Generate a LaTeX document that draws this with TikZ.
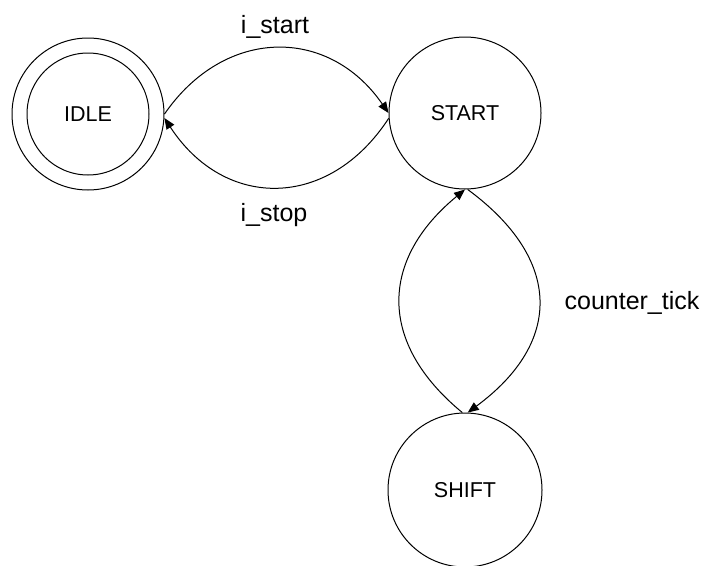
\documentclass[tikz,border=0pt]{standalone}
\usepackage{fontspec}
\setmainfont{Liberation Sans}
\usetikzlibrary{arrows.meta}
\begin{document}
\begin{tikzpicture}[x=1pt,y=-1pt,
  statenode/.style={circle,draw,line width=1pt,inner sep=0pt,font=\fontsize{21.5}{25}\selectfont},
  lbl/.style={anchor=base,font=\fontsize{25}{30}\selectfont},
  edge/.style={line width=1pt,-{Triangle[length=11pt,width=9pt]}}]
\useasboundingbox (0,0) rectangle (706,565);
\node[statenode,minimum size=152pt] (idle) at (88,114) {};
\node[statenode,minimum size=122pt] (idlein) at (88,114) {IDLE};
\node[statenode,minimum size=152pt] (start) at (465,113) {START};
\node[statenode,minimum size=154pt] (shift) at (465,490) {SHIFT};
\draw[edge] (idle.0) .. controls +(60,-87) and +(-60,-87) .. (start.180);
\draw[edge] (start.184) .. controls +(-60,92) and +(60,92) .. (idle.-3);
\draw[edge] (shift.92) .. controls +(-85,-70) and +(-85,70) .. (start.270);
\draw[edge] (start.-88) .. controls +(95,70) and +(95,-70) .. (shift.88);
\node[lbl] (l1) at (275,33) {i\_start};
\node[lbl] (l2) at (274,221) {i\_stop};
\node[lbl] (l3) at (632,309) {counter\_tick};
\end{tikzpicture}
\end{document}
